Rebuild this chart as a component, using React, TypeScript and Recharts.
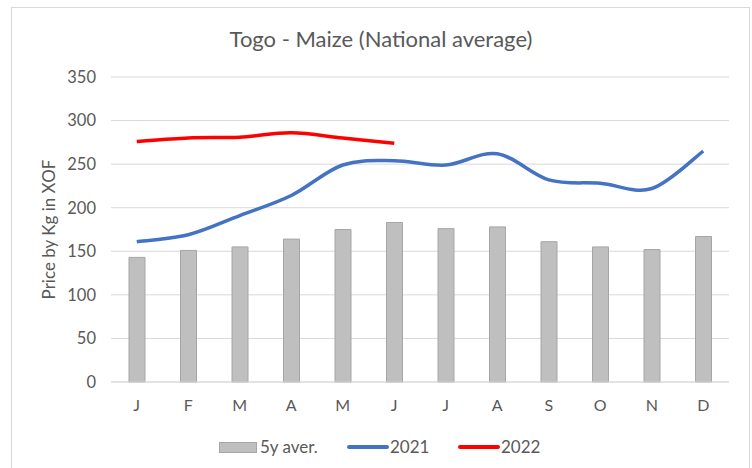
import React from "react";
import { ComposedChart, Bar, Line, XAxis, YAxis, CartesianGrid } from "recharts";

const months = ["J", "F", "M", "A", "M", "J", "J", "A", "S", "O", "N", "D"];
const avg5y = [143, 151, 155, 164, 175, 183, 176, 178, 161, 155, 152, 167];
const y2021 = [161, 169, 191, 214, 249, 254, 249, 262, 232, 228, 222, 265];
const y2022: (number | null)[] = [276, 280, 281, 286, 280, 274, null, null, null, null, null, null];
const yTicks = [0, 50, 100, 150, 200, 250, 300, 350];

const data = months.map((m, i) => ({
  m,
  avg: avg5y[i],
  a: y2021[i],
  b: y2022[i],
}));

const FONT = "Lato, 'Open Sans', sans-serif";
const TXT = "#595959";

// Excel-like smoothing (Catmull-Rom through points)
const excelCurve = (context: any) => {
  let pts: [number, number][] = [];
  return {
    areaStart() {},
    areaEnd() {},
    lineStart() {
      pts = [];
    },
    lineEnd() {
      if (!pts.length) return;
      context.moveTo(pts[0][0], pts[0][1]);
      for (let i = 0; i < pts.length - 1; i++) {
        const p0 = pts[i - 1] || pts[i];
        const p1 = pts[i];
        const p2 = pts[i + 1];
        const p3 = pts[i + 2] || p2;
        context.bezierCurveTo(
          p1[0] + (p2[0] - p0[0]) / 6,
          p1[1] + (p2[1] - p0[1]) / 6,
          p2[0] - (p3[0] - p1[0]) / 6,
          p2[1] - (p3[1] - p1[1]) / 6,
          p2[0],
          p2[1]
        );
      }
    },
    point(x: number, y: number) {
      pts.push([+x, +y]);
    },
  };
};

export default function App() {
  return (
    <div style={{ position: "absolute", left: 0, top: 0, width: 752, height: 468, background: "#fff", overflow: "hidden", fontFamily: FONT }}>
      <div style={{ position: "absolute", left: 11, top: 7, width: 739, height: 470, border: "1px solid #d9d9d9", boxSizing: "border-box" }} />
      <div style={{ position: "absolute", left: 0, top: 25, width: 762, textAlign: "center", fontSize: 22, color: TXT, lineHeight: "28px" }}>
        Togo - Maize (National average)
      </div>
      <div style={{ position: "absolute", left: 0, top: 0 }}>
        <ComposedChart width={752} height={468} data={data} margin={{ top: 77, right: 23, bottom: 56, left: 0 }}>
          <CartesianGrid vertical={false} stroke="#d9d9d9" strokeWidth={1} />
          <XAxis
            dataKey="m"
            height={30}
            axisLine={{ stroke: "#d9d9d9" }}
            tickLine={false}
            tickMargin={12}
            tick={{ fill: TXT, fontSize: 16, fontFamily: FONT }}
            interval={0}
          />
          <YAxis
            width={111}
            domain={[0, 350]}
            ticks={yTicks}
            axisLine={false}
            tickLine={false}
            tickMargin={9}
            tick={{ fill: TXT, fontSize: 16.5, fontFamily: FONT }}
            label={{ value: "Price by Kg in XOF", angle: -90, position: "insideLeft", dx: 44, dy: 0, style: { fill: TXT, fontSize: 17, fontFamily: FONT, textAnchor: "middle" } }}
          />
          <Bar dataKey="avg" barSize={16} fill="#bfbfbf" stroke="#a6a6a6" strokeWidth={1} isAnimationActive={false} />
          <Line dataKey="a" type={excelCurve as any} stroke="#4472c4" strokeWidth={3.5} dot={false} activeDot={false} isAnimationActive={false} />
          <Line dataKey="b" type={excelCurve as any} stroke="#ff0000" strokeWidth={3.5} dot={false} activeDot={false} isAnimationActive={false} />
        </ComposedChart>
      </div>
      <div style={{ position: "absolute", left: 0, top: 436, width: 752, height: 22, fontSize: 17, color: TXT }}>
        <div style={{ position: "absolute", left: 219, top: 6, width: 38, height: 11, background: "#bfbfbf", border: "1px solid #a6a6a6", boxSizing: "border-box" }} />
        <div style={{ position: "absolute", left: 260, top: 0, lineHeight: "22px" }}>5y aver.</div>
        <div style={{ position: "absolute", left: 347, top: 9, width: 42, height: 4, background: "#4472c4", borderRadius: 2 }} />
        <div style={{ position: "absolute", left: 390, top: 0, lineHeight: "22px" }}>2021</div>
        <div style={{ position: "absolute", left: 458, top: 9, width: 42, height: 4, background: "#ff0000", borderRadius: 2 }} />
        <div style={{ position: "absolute", left: 501, top: 0, lineHeight: "22px" }}>2022</div>
      </div>
    </div>
  );
}
